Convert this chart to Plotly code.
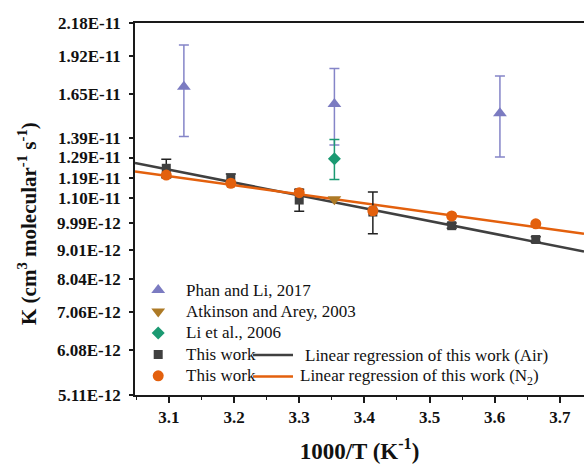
import numpy as np
import plotly.graph_objects as go

# 1000/T values (K^-1) and rate constants (units of 1e-11 cm3 molecule-1 s-1)
x_this = [3.096, 3.195, 3.300, 3.413, 3.534, 3.663]
k_air = [1.237, 1.190, 1.093, 1.043, 0.989, 0.937]
err_air = [0.045, 0.020, 0.047, 0.085, 0.010, 0.010]
k_n2 = [1.205, 1.167, 1.125, 1.048, 1.027, 0.996]
err_n2 = [0.015, 0.015, 0.015, 0.015, 0.010, 0.010]

x_phan = [3.123, 3.354, 3.608]
k_phan = [1.700, 1.590, 1.533]
err_phan = [0.300, 0.235, 0.240]

x_atk = [3.354]
k_atk = [1.096]

x_li = [3.354]
k_li = [1.284]
err_li = [0.100]

y_ticks = [5.11e-12, 6.08e-12, 7.06e-12, 8.04e-12, 9.01e-12, 9.99e-12,
           1.10e-11, 1.19e-11, 1.29e-11, 1.39e-11, 1.65e-11, 1.92e-11, 2.18e-11]
y_ticktext = ["5.11E-12", "6.08E-12", "7.06E-12", "8.04E-12", "9.01E-12", "9.99E-12",
              "1.10E-11", "1.19E-11", "1.29E-11", "1.39E-11", "1.65E-11", "1.92E-11", "2.18E-11"]

# legend labels: symbol column, then the regression-line column
marker_labels = ["Phan and Li, 2017", "Atkinson and Arey, 2003", "Li et al., 2006",
                 "This work", "This work"]
line_labels = ["Linear regression of this work (Air)",
               "Linear regression of this work (N<sub>2</sub>)"]
y_title = "K (cm<sup>3</sup> molecular<sup>-1</sup> s<sup>-1</sup>)"
x_title = "1000/T (K<sup>-1</sup>)"

x_range = [3.048, 3.737]

SCALE = 1e-11
FONT = "Liberation Serif"
C_PHAN = "#7b7bc1"
C_ATK = "#ad7a26"
C_LI = "#1b9a72"
C_AIR = "#404040"
C_N2 = "#e3600d"

W, H = 584, 464
M_L, M_R, M_T, M_B = 135, 0, 23, 69
PLOT_W = W - M_L - M_R
PLOT_H = H - M_T - M_B

LEG_FONT = 14.2                      # sets the legend row pitch
ROW_H = LEG_FONT * 1.3 + 3
LEG1_Y = 0.3245
LEG2_Y = 0.1497


def sc(v):
    return [a * SCALE for a in v]


def arrhenius_fit(x, k):
    # straight line of ln(k) against 1000/T, evaluated across the axis range
    slope, icpt = np.polyfit(np.array(x), np.log(np.array(k)), 1)
    xs = np.array(x_range)
    return xs, np.exp(icpt + slope * xs) * SCALE


def row_y(legend_top, i):
    return legend_top - (5 + ROW_H / 2 + i * ROW_H) / PLOT_H


fig = go.Figure()

xs, ys = arrhenius_fit(x_this, k_air)
fig.add_trace(go.Scatter(x=xs, y=ys, mode="lines", line=dict(color=C_AIR, width=2.5),
                         name=" ", legend="legend2"))
xs, ys = arrhenius_fit(x_this, k_n2)
fig.add_trace(go.Scatter(x=xs, y=ys, mode="lines", line=dict(color=C_N2, width=2.5),
                         name=" ", legend="legend2"))

fig.add_trace(go.Scatter(
    x=x_phan, y=sc(k_phan), mode="markers", name=" ",
    marker=dict(symbol="triangle-up", size=12, color=C_PHAN),
    error_y=dict(type="data", array=sc(err_phan), color="#8585c8", thickness=1.5, width=5)))
fig.add_trace(go.Scatter(
    x=x_atk, y=sc(k_atk), mode="markers", name=" ",
    marker=dict(symbol="triangle-down", size=12, color=C_ATK)))
fig.add_trace(go.Scatter(
    x=x_li, y=sc(k_li), mode="markers", name=" ",
    marker=dict(symbol="diamond", size=10, color=C_LI),
    error_y=dict(type="data", array=sc(err_li), color=C_LI, thickness=1.5, width=5)))
fig.add_trace(go.Scatter(
    x=x_this, y=sc(k_air), mode="markers", name=" ",
    marker=dict(symbol="square", size=9, color=C_AIR),
    error_y=dict(type="data", array=sc(err_air), color="#222222", thickness=1.5, width=5)))
fig.add_trace(go.Scatter(
    x=x_this, y=sc(k_n2), mode="markers", name=" ",
    marker=dict(symbol="circle", size=11, color=C_N2),
    error_y=dict(type="data", array=sc(err_n2), color="#222222", thickness=1.5, width=4)))

# legend texts
ann = []
for i, t in enumerate(marker_labels):
    ann.append(dict(text=t, xref="paper", yref="paper", x=(183.5 - M_L) / PLOT_W,
                    y=row_y(LEG1_Y, i), xanchor="left", yanchor="middle", showarrow=False,
                    font=dict(family=FONT, size=17, color="#111111")))
for i, (t, px) in enumerate(zip(line_labels, [302.5, 297.5])):
    ann.append(dict(text=t, xref="paper", yref="paper", x=(px - M_L) / PLOT_W,
                    y=row_y(LEG2_Y, i), xanchor="left", yanchor="middle", showarrow=False,
                    font=dict(family=FONT, size=17, color="#111111")))
# vertical axis title, set a little below the plot's mid-height
ann.append(dict(text=y_title, xref="paper", yref="paper", x=(27 - M_L) / PLOT_W, y=0.5,
                xanchor="center", yanchor="middle", textangle=-90, showarrow=False, yshift=-15,
                font=dict(family=FONT, size=21, weight="bold", color="#111111")))

fig.update_layout(
    width=W, height=H,
    margin=dict(l=M_L, r=M_R, t=M_T, b=M_B),
    paper_bgcolor="white", plot_bgcolor="white",
    font=dict(family=FONT, color="#111111"),
    legend=dict(x=-0.004, y=LEG1_Y, xanchor="left", yanchor="top",
                bgcolor="rgba(0,0,0,0)", borderwidth=0, itemwidth=40,
                font=dict(family=FONT, size=LEG_FONT, color="#111111")),
    legend2=dict(x=0.2517, y=LEG2_Y, xanchor="left", yanchor="top",
                 bgcolor="rgba(0,0,0,0)", borderwidth=0, itemwidth=40,
                 font=dict(family=FONT, size=LEG_FONT, color="#111111")),
    annotations=ann,
)

fig.update_xaxes(
    range=x_range, showgrid=False, zeroline=False,
    showline=True, linecolor="#1a1a1a", linewidth=1.8, mirror=True,
    ticks="outside", ticklen=6, tickwidth=1.5, tickcolor="#1a1a1a",
    tick0=3.1, dtick=0.1, tickformat=".1f",
    minor=dict(ticks="outside", ticklen=3, tickwidth=1.2, tickcolor="#1a1a1a", dtick=0.05, tick0=3.05),
    tickfont=dict(family=FONT, size=17, weight="bold"),
    title=dict(text=x_title, font=dict(family=FONT, size=23, weight="bold"), standoff=17),
)
fig.update_yaxes(
    type="log", range=[np.log10(y_ticks[0]), np.log10(y_ticks[-1])],
    showgrid=False, zeroline=False,
    showline=True, linecolor="#1a1a1a", linewidth=1.8, mirror=False,
    ticks="outside", ticklen=4, tickwidth=1.5, tickcolor="#1a1a1a",
    tickvals=y_ticks, ticktext=y_ticktext, ticklabelstandoff=5,
    tickfont=dict(family=FONT, size=17, weight="bold"),
)

fig.write_html("out.html")
